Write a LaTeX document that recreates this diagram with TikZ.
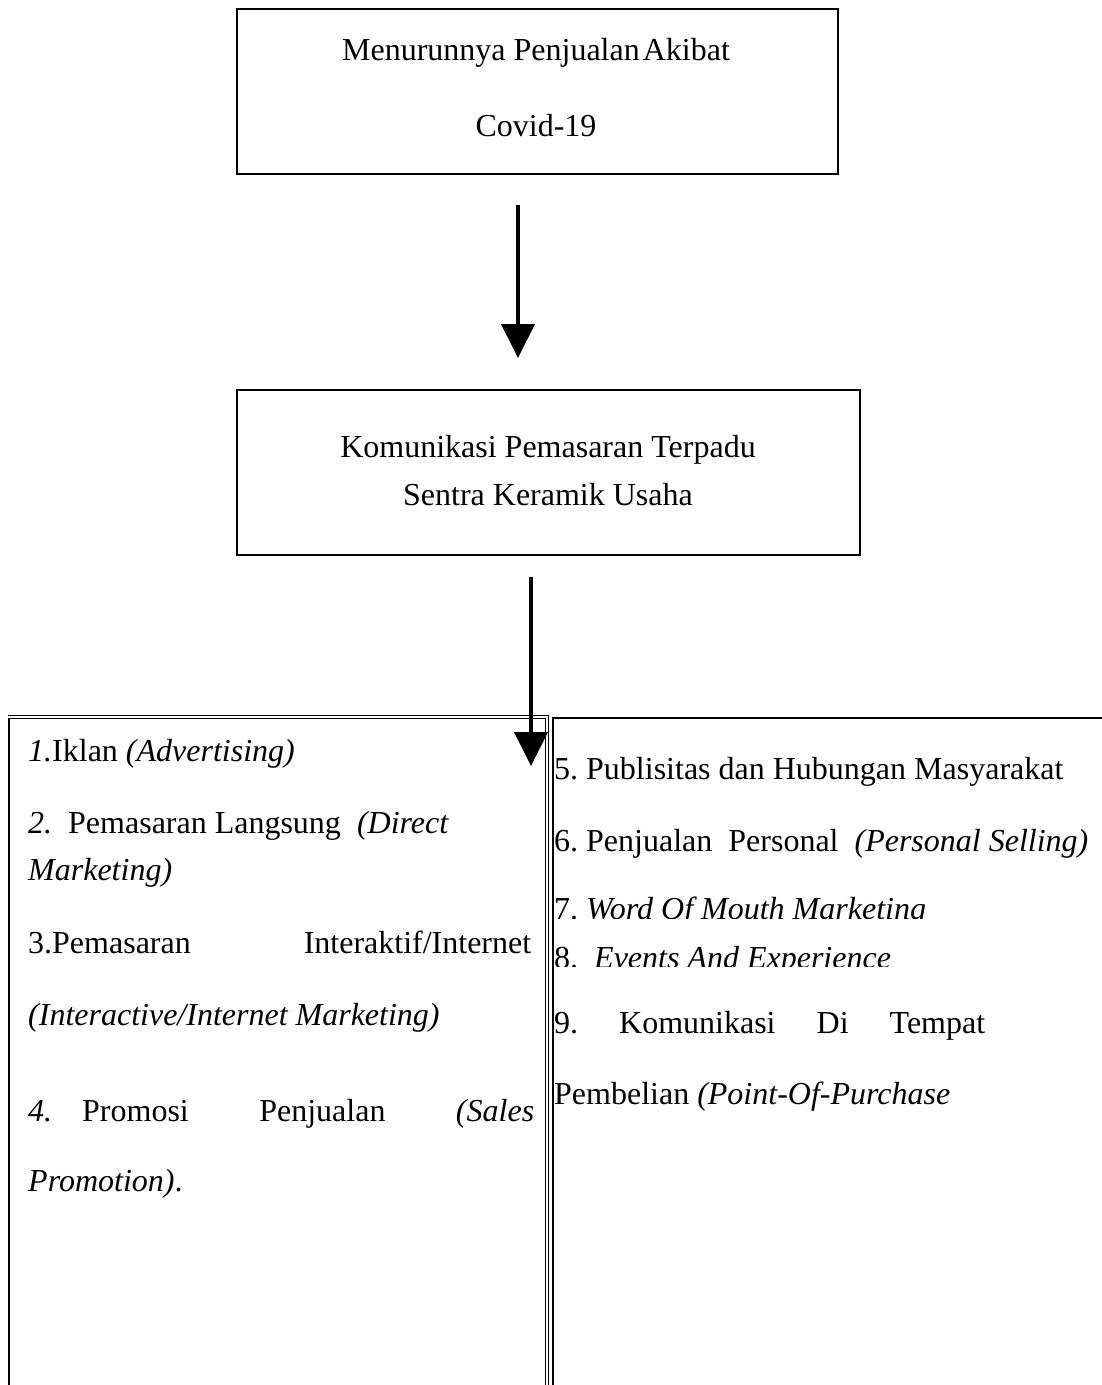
\documentclass[tikz,border=0pt]{standalone}
\usepackage{fontspec}
\setmainfont{Liberation Serif}
\usetikzlibrary{arrows.meta}

\tikzset{
  box/.style={draw, line width=1.2pt, inner sep=0pt},
  lbl/.style={anchor=base west, inner sep=0pt},
  ctr/.style={anchor=base, inner sep=0pt},
  arr/.style={line width=4pt, -{Triangle[length=34pt,width=33pt]}},
  dbl/.style={draw, double, line width=0.8pt, double distance=1.6pt}
}

\begin{document}
\frenchspacing
\begin{tikzpicture}[x=1pt,y=-1pt,font=\fontsize{32}{38}\selectfont]
\useasboundingbox (0,0) rectangle (1102,1385);
%top boxes
\node[box, minimum width=601pt, minimum height=165pt] (sebab) at (537.5,91.5) {};
\node[ctr] (sebab1) at (536,60) {Menurunnya Penjualan\hspace{3pt}Akibat};
\node[ctr] (sebab2) at (536,136) {Covid-19};
\node[box, minimum width=623pt, minimum height=165pt] (imc) at (548.5,472.5) {};
\node[ctr] (imc1) at (548,457) {Komunikasi Pemasaran Terpadu};
\node[ctr] (imc2) at (548,505) {Sentra Keramik Usaha};
%arrows
\coordinate (a1s) at (518,205);
\coordinate (a1e) at (518,358);
\coordinate (a2s) at (531,577);
\coordinate (a2e) at (531,766);
\draw[arr] (a1s) -- (a1e);
%left and right panels
\draw[line width=1.6pt] (9,1385) -- (9,717);
\draw[dbl] (8,717) -- (547,717) -- (547,1385);
\draw[line width=1.2pt] (1102,718) -- (553,718) -- (553,1385);
\draw[arr] (a2s) -- (a2e);
%left list
\node[lbl] (k1) at (28,761) {\textit{1.}Iklan \textit{(Advertising)}};
\node[lbl] (k2) at (28,833) {\textit{2.}\ \ Pemasaran Langsung \ \textit{(Direct}};
\node[lbl] (k2b) at (28,880) {\textit{Marketing)}};
\node[lbl] (k3) at (28,953) {\makebox[503pt][s]{3.Pemasaran Interaktif/Internet}};
\node[lbl] (k3b) at (28,1025) {\textit{(Interactive/Internet Marketing)}};
\node[lbl] (k4) at (28,1121) {\makebox[506pt][s]{\textit{4.}\hspace{30pt}Promosi Penjualan \textit{(Sales}}};
\node[lbl] (k4b) at (28,1191) {\textit{Promotion)}.};
%right list
\node[lbl] (k5) at (554,779) {5. Publisitas dan Hubungan Masyarakat};
\node[lbl] (k6) at (554,851) {6. Penjualan \ Personal \ \textit{(Personal Selling)}};
\begin{scope}
\clip (555,870) rectangle (1102,918);
\node[lbl] (k7) at (554,919) {7. \textit{Word Of Mouth Marketing}};
\end{scope}
\begin{scope}
\clip (555,930) rectangle (1102,966);
\node[lbl] (k8) at (554,968) {8. \ \textit{Events And Experience}};
\end{scope}
\node[lbl] (k9) at (554,1033) {\makebox[431pt][s]{9. Komunikasi Di Tempat}};
\node[lbl] (k9b) at (554,1104) {Pembelian \textit{(Point-Of-Purchase}};
\end{tikzpicture}
\end{document}
